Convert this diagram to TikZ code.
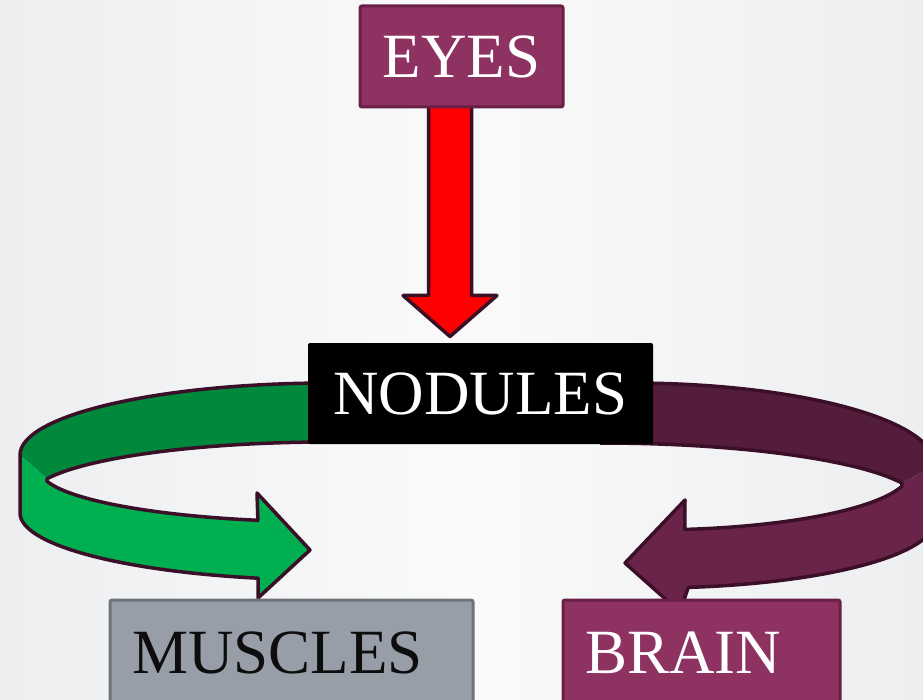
\documentclass[tikz,border=0pt]{standalone}
\usepackage{fontspec}
\setmainfont{Liberation Serif}
\usetikzlibrary{calc}
\pgfdeclarelayer{bglayer}
\pgfdeclarelayer{arrowlayer}
\pgfsetlayers{bglayer,arrowlayer,main}
\definecolor{plum}{HTML}{8E3262}
\definecolor{plumdark}{HTML}{6A1F46}
\definecolor{greendark}{HTML}{00893D}
\definecolor{greenlight}{HTML}{00AF50}
\definecolor{maroondark}{HTML}{541D3B}
\definecolor{maroonlight}{HTML}{6B2449}
\definecolor{outline}{HTML}{3A0F27}
\definecolor{graybox}{HTML}{979EA7}
\definecolor{grayedge}{HTML}{6E7479}
\definecolor{bgedge}{HTML}{ECEEF0}
\definecolor{bgmid}{HTML}{FAFAFA}
\begin{document}
\begin{tikzpicture}[x=1pt,y=-1pt,
  outl/.style={draw=outline, line width=3.5pt, line join=round},
  box/.style={rectangle, rounded corners=2pt, line width=3pt, inner sep=0pt},
  lbl/.style={font=\fontsize{63}{63}\selectfont}]
\useasboundingbox (0,0) rectangle (923,700);
\begin{pgfonlayer}{bglayer}
\shade[left color=bgedge, right color=bgedge, middle color=bgmid] (0,0) rectangle (923,700);
\end{pgfonlayer}

% nodes
\node[box, draw=plumdark, fill=plum, minimum width=203pt, minimum height=101pt, text=white, lbl] (eyes) at (461.5,56.5) {EYES};
\node[box, fill=black, minimum width=345pt, minimum height=101pt, text=white, lbl] (nodules) at (480.5,393.5) {NODULES};
\node[box, draw=grayedge, fill=graybox, minimum width=363pt, minimum height=110pt] (muscles) at (291.5,655) {};
\node[lbl, text=black!95, anchor=base west, inner sep=0pt] (muscleslabel) at (132,673) {MUSCLES};
\node[box, draw=plumdark, fill=plum, minimum width=277pt, minimum height=110pt] (brain) at (701.5,655) {};
\node[lbl, text=white, anchor=base west, inner sep=0pt] (brainlabel) at (585,673) {BRAIN};

\begin{pgfonlayer}{arrowlayer}
% red block arrow from EYES to NODULES
\draw[outl, fill=red] ($(eyes.south)+(-33,-4)$) -- ($(eyes.south)+(-33,187)$)
  -- ($(eyes.south)+(-58.5,187)$) -- ($(nodules.north)+(-30.5,-5)$)
  -- ($(eyes.south)+(35.5,187)$) -- ($(eyes.south)+(10,187)$) -- ($(eyes.south)+(10,-4)$);

% green curved arrow (NODULES to MUSCLES)
\fill[greendark] (330,383) arc[start angle=270, end angle=180, x radius=310, y radius=72]
  -- (47,478.7) arc[start angle=199.4, end angle=270, x radius=300, y radius=55] -- cycle;
\fill[greenlight] (20,455) -- (20,513) arc[start angle=180, end angle=103.4, x radius=310, y radius=67]
  -- (258,598) -- (310,550) -- (257,493) -- (257.9,520.4)
  arc[start angle=104.4, end angle=167.4, x radius=290, y radius=52] -- (47,478.7) -- cycle;
\draw[outl] (330,442) arc[start angle=270, end angle=199.4, x radius=300, y radius=55]
  -- (47,481.3) arc[start angle=167.4, end angle=104.4, x radius=290, y radius=52]
  -- (257,493) -- (310,550) -- (258,598) -- (258.2,578.2)
  arc[start angle=103.4, end angle=180, x radius=310, y radius=67]
  -- (20,455) arc[start angle=180, end angle=270, x radius=310, y radius=72];

% maroon curved arrow (NODULES to BRAIN)
\fill[maroondark] (630,383) arc[start angle=270, end angle=360, x radius=305, y radius=82]
  -- (902,483.2) arc[start angle=340.7, end angle=270, x radius=320, y radius=60] -- cycle;
\fill[maroonlight] (935,465) -- (902,483.2) -- (901.9,486.3) arc[start angle=14.3, end angle=82.3, x radius=260, y radius=58]
  -- (685,500) -- (625,563) -- (680,612) -- (688.2,587.4)
  arc[start angle=82.3, end angle=0, x radius=285, y radius=68] -- cycle;
\draw[outl] (600,443) arc[start angle=270, end angle=340.7, x radius=320, y radius=60]
  -- (901.9,486.3) arc[start angle=14.3, end angle=82.3, x radius=260, y radius=58]
  -- (685,500) -- (625,563) -- (680,612) -- (688.2,587.4)
  arc[start angle=82.3, end angle=0, x radius=285, y radius=68]
  -- (935,465) arc[start angle=0, end angle=-90, x radius=305, y radius=82];
\end{pgfonlayer}
\end{tikzpicture}
\end{document}
